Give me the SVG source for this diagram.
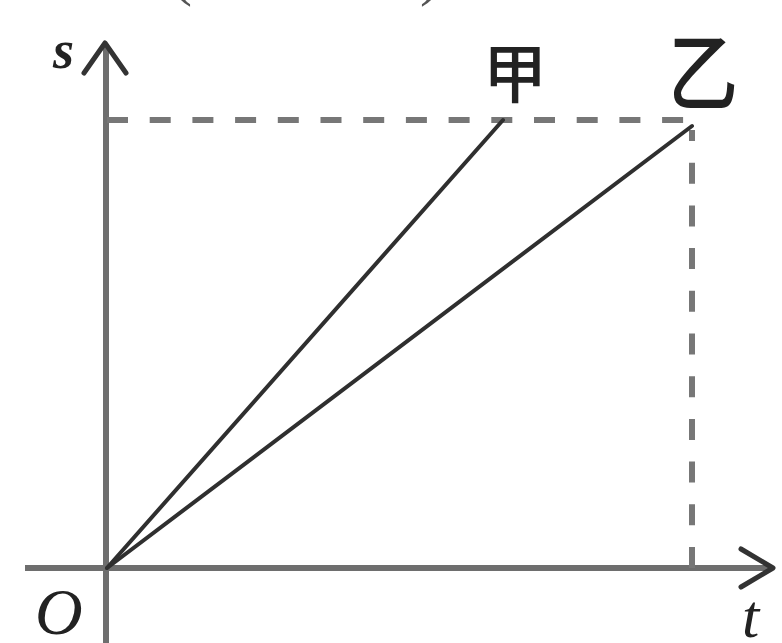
<svg xmlns="http://www.w3.org/2000/svg" width="782" height="643" viewBox="0 0 782 643">
<style>
.axis{stroke:#6e6e6e;stroke-width:6;fill:none;stroke-linecap:butt}
.arrow{stroke:#333;stroke-width:5;fill:none;stroke-linecap:round;stroke-linejoin:round}
.dash{stroke:#777;stroke-width:6;fill:none;stroke-dasharray:21 21.7}
.line{stroke:#2f2f2f;stroke-width:4;fill:none;stroke-linecap:round}
.it{font-family:"Liberation Serif","Times New Roman",serif;font-style:italic;fill:#222}
.cjk{font-family:"Noto Sans CJK SC","Noto Sans CJK JP",sans-serif;fill:#222}
.paren{font-family:"Liberation Serif",serif;fill:#555}
</style>
<rect width="782" height="643" fill="#fff"/>
<text class="paren" x="172" y="-6" font-size="60">(</text>
<text class="paren" x="420" y="-6" font-size="60">)</text>
<g id="axes">
<line class="axis" x1="106" y1="643" x2="106" y2="46"/>
<polyline class="arrow" points="84,73 105,43 126,73"/>
<line class="axis" x1="25" y1="568" x2="770" y2="568"/>
<polyline class="arrow" points="741,549 773,568 741,587"/>
</g>
<g id="guides">
<line class="dash" x1="107" y1="120" x2="690" y2="120"/>
<line class="dash" x1="692" y1="568" x2="692" y2="130"/>
</g>
<g id="connectors">
<line class="line" x1="107" y1="568" x2="503" y2="120"/>
<line class="line" x1="107" y1="568" x2="692" y2="126"/>
</g>
<g id="labels">
<text class="it" x="53" y="68" font-size="54" font-weight="bold">s</text>
<text class="it" x="35" y="634" font-size="66">O</text>
<text class="it" x="742" y="637" font-size="62">t</text>
<text class="cjk" x="483" y="97" font-size="64" font-weight="500">甲</text>
<text class="cjk" transform="translate(668,104) scale(1,1.22)" x="0" y="0" font-size="70" font-weight="500">乙</text>
</g>
</svg>
